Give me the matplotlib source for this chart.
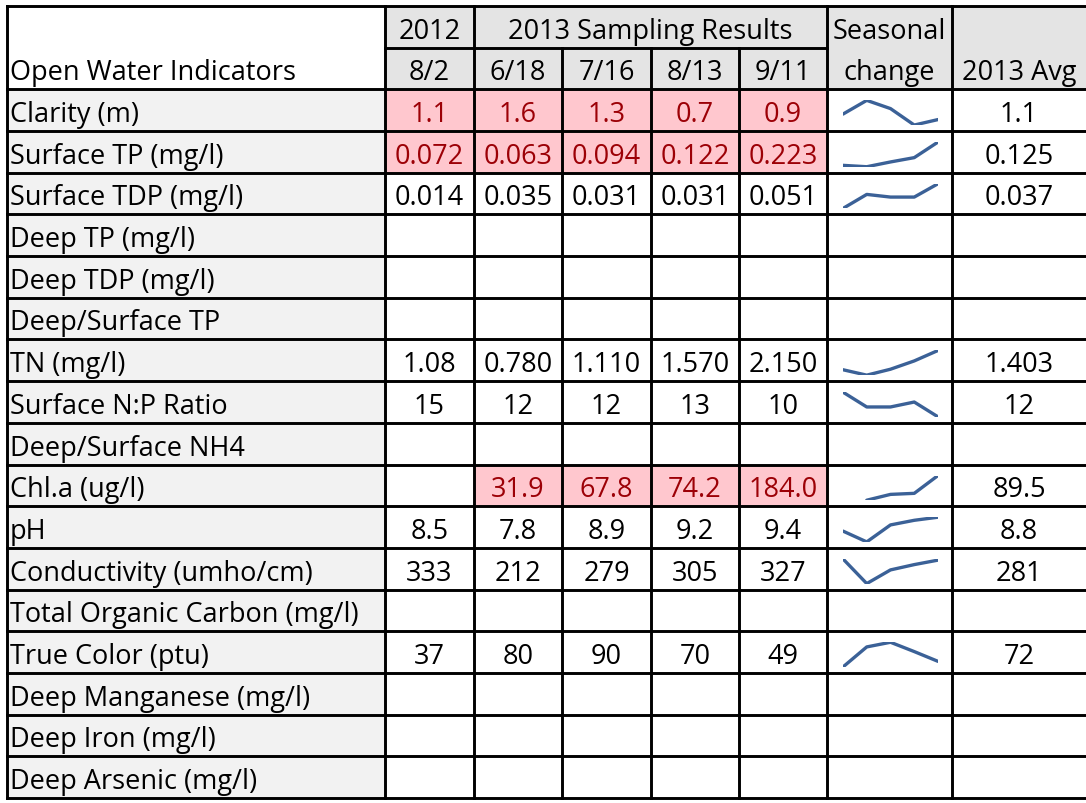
#open water indicators table with sparklines

import matplotlib
matplotlib.use("Agg")
import matplotlib.pyplot as plt
from matplotlib.patches import Rectangle
import numpy as np

plt.rcParams['font.family'] = ['Open Sans', 'DejaVu Sans']

#table data
indicators = ["Clarity (m)", "Surface TP (mg/l)", "Surface TDP (mg/l)", "Deep TP (mg/l)",
              "Deep TDP (mg/l)", "Deep/Surface TP", "TN (mg/l)", "Surface N:P Ratio",
              "Deep/Surface NH4", "Chl.a (ug/l)", "pH", "Conductivity (umho/cm)",
              "Total Organic Carbon (mg/l)", "True Color (ptu)", "Deep Manganese (mg/l)",
              "Deep Iron (mg/l)", "Deep Arsenic (mg/l)"]

dates = ["8/2", "6/18", "7/16", "8/13", "9/11"]

s_0802 = ["1.1", "0.072", "0.014", "", "", "", "1.08", "15", "", "", "8.5", "333", "", "37", "", "", ""]
s_0618 = ["1.6", "0.063", "0.035", "", "", "", "0.780", "12", "", "31.9", "7.8", "212", "", "80", "", "", ""]
s_0716 = ["1.3", "0.094", "0.031", "", "", "", "1.110", "12", "", "67.8", "8.9", "279", "", "90", "", "", ""]
s_0813 = ["0.7", "0.122", "0.031", "", "", "", "1.570", "13", "", "74.2", "9.2", "305", "", "70", "", "", ""]
s_0911 = ["0.9", "0.223", "0.051", "", "", "", "2.150", "10", "", "184.0", "9.4", "327", "", "49", "", "", ""]
avg_2013 = ["1.1", "0.125", "0.037", "", "", "", "1.403", "12", "", "89.5", "8.8", "281", "", "72", "", "", ""]

highlight_rows = ["Clarity (m)", "Surface TP (mg/l)", "Chl.a (ug/l)"]

columns = [s_0802, s_0618, s_0716, s_0813, s_0911]

#layout (pixels)
W, H = 1086, 804
colEdges = [7, 385, 474, 562, 651, 739, 827, 952, 1090]
top = 7
bottom = 799
nRows = 2 + len(indicators)
rowH = (bottom - top) / nRows

headGray = "#e4e4e4"
labelGray = "#f2f2f2"
pinkFill = "#ffc7ce"
pinkText = "#9c0006"
sparkColor = "#3b6197"
fs = 19.5
lw = 2.1

fig = plt.figure(figsize=(W / 100, H / 100), dpi=100)
ax = fig.add_axes([0, 0, 1, 1])
ax.set_xlim(0, W)
ax.set_ylim(H, 0)
ax.axis("off")


def rowY(i):
    return top + i * rowH


def cell(x0, x1, y0, y1, color):
    ax.add_patch(Rectangle((x0, y0), x1 - x0, y1 - y0, facecolor=color, edgecolor="none", zorder=1))


def txt(x, i, s, ha="center", color="black"):
    ax.text(x, rowY(i + 1) - 10, s, ha=ha, va="baseline", fontsize=fs, color=color, zorder=3)


#header backgrounds
cell(colEdges[1], colEdges[-1], rowY(0), rowY(2), headGray)

#header text
txt((colEdges[1] + colEdges[2]) / 2, 0, "2012")
txt((colEdges[2] + colEdges[6]) / 2, 0, "2013 Sampling Results")
txt((colEdges[6] + colEdges[7]) / 2, 0, "Seasonal")
txt(colEdges[0] + 3, 1, "Open Water Indicators", ha="left")
for j, d in enumerate(dates):
    txt((colEdges[j + 1] + colEdges[j + 2]) / 2, 1, d)
txt((colEdges[6] + colEdges[7]) / 2, 1, "change")
txt((colEdges[7] + 1086) / 2, 1, "2013 Avg")

#body
for r, name in enumerate(indicators):
    i = r + 2
    cell(colEdges[0], colEdges[1], rowY(i), rowY(i + 1), labelGray)
    txt(colEdges[0] + 3, i, name, ha="left")

    for j, col in enumerate(columns):
        v = col[r]
        x0, x1 = colEdges[j + 1], colEdges[j + 2]
        if v != "" and name in highlight_rows:
            cell(x0, x1, rowY(i), rowY(i + 1), pinkFill)
            txt((x0 + x1) / 2, i, v, color=pinkText)
        elif v != "":
            txt((x0 + x1) / 2, i, v)

    if avg_2013[r] != "":
        txt((colEdges[7] + 1086) / 2, i, avg_2013[r])

    #sparkline
    vals = np.array([float(c[r]) if c[r] != "" else np.nan for c in columns])
    if np.sum(~np.isnan(vals)) > 1:
        sx0 = colEdges[6] + 16
        sx1 = colEdges[7] - 14
        sy0 = rowY(i) + 11
        sy1 = rowY(i + 1) - 6
        sp = fig.add_axes([sx0 / W, 1 - sy1 / H, (sx1 - sx0) / W, (sy1 - sy0) / H])
        sp.plot(range(len(vals)), vals, color=sparkColor, linewidth=2.4,
                solid_capstyle="round", solid_joinstyle="round")
        sp.set_xlim(0, len(vals) - 1)
        sp.set_ylim(np.nanmin(vals), np.nanmax(vals))
        sp.axis("off")
        sp.patch.set_alpha(0)

#grid lines
for i in range(nRows + 1):
    y = rowY(i)
    if i == 1:
        ax.plot([colEdges[1], colEdges[6]], [y, y], color="black", lw=lw, zorder=4)
    else:
        ax.plot([colEdges[0], colEdges[-1]], [y, y], color="black", lw=lw, zorder=4)

for k, x in enumerate(colEdges):
    if k in (3, 4, 5):
        ax.plot([x, x], [rowY(1), bottom], color="black", lw=lw, zorder=4)
    else:
        ax.plot([x, x], [top, bottom], color="black", lw=lw, zorder=4)

fig.savefig("out.png", dpi=100)
